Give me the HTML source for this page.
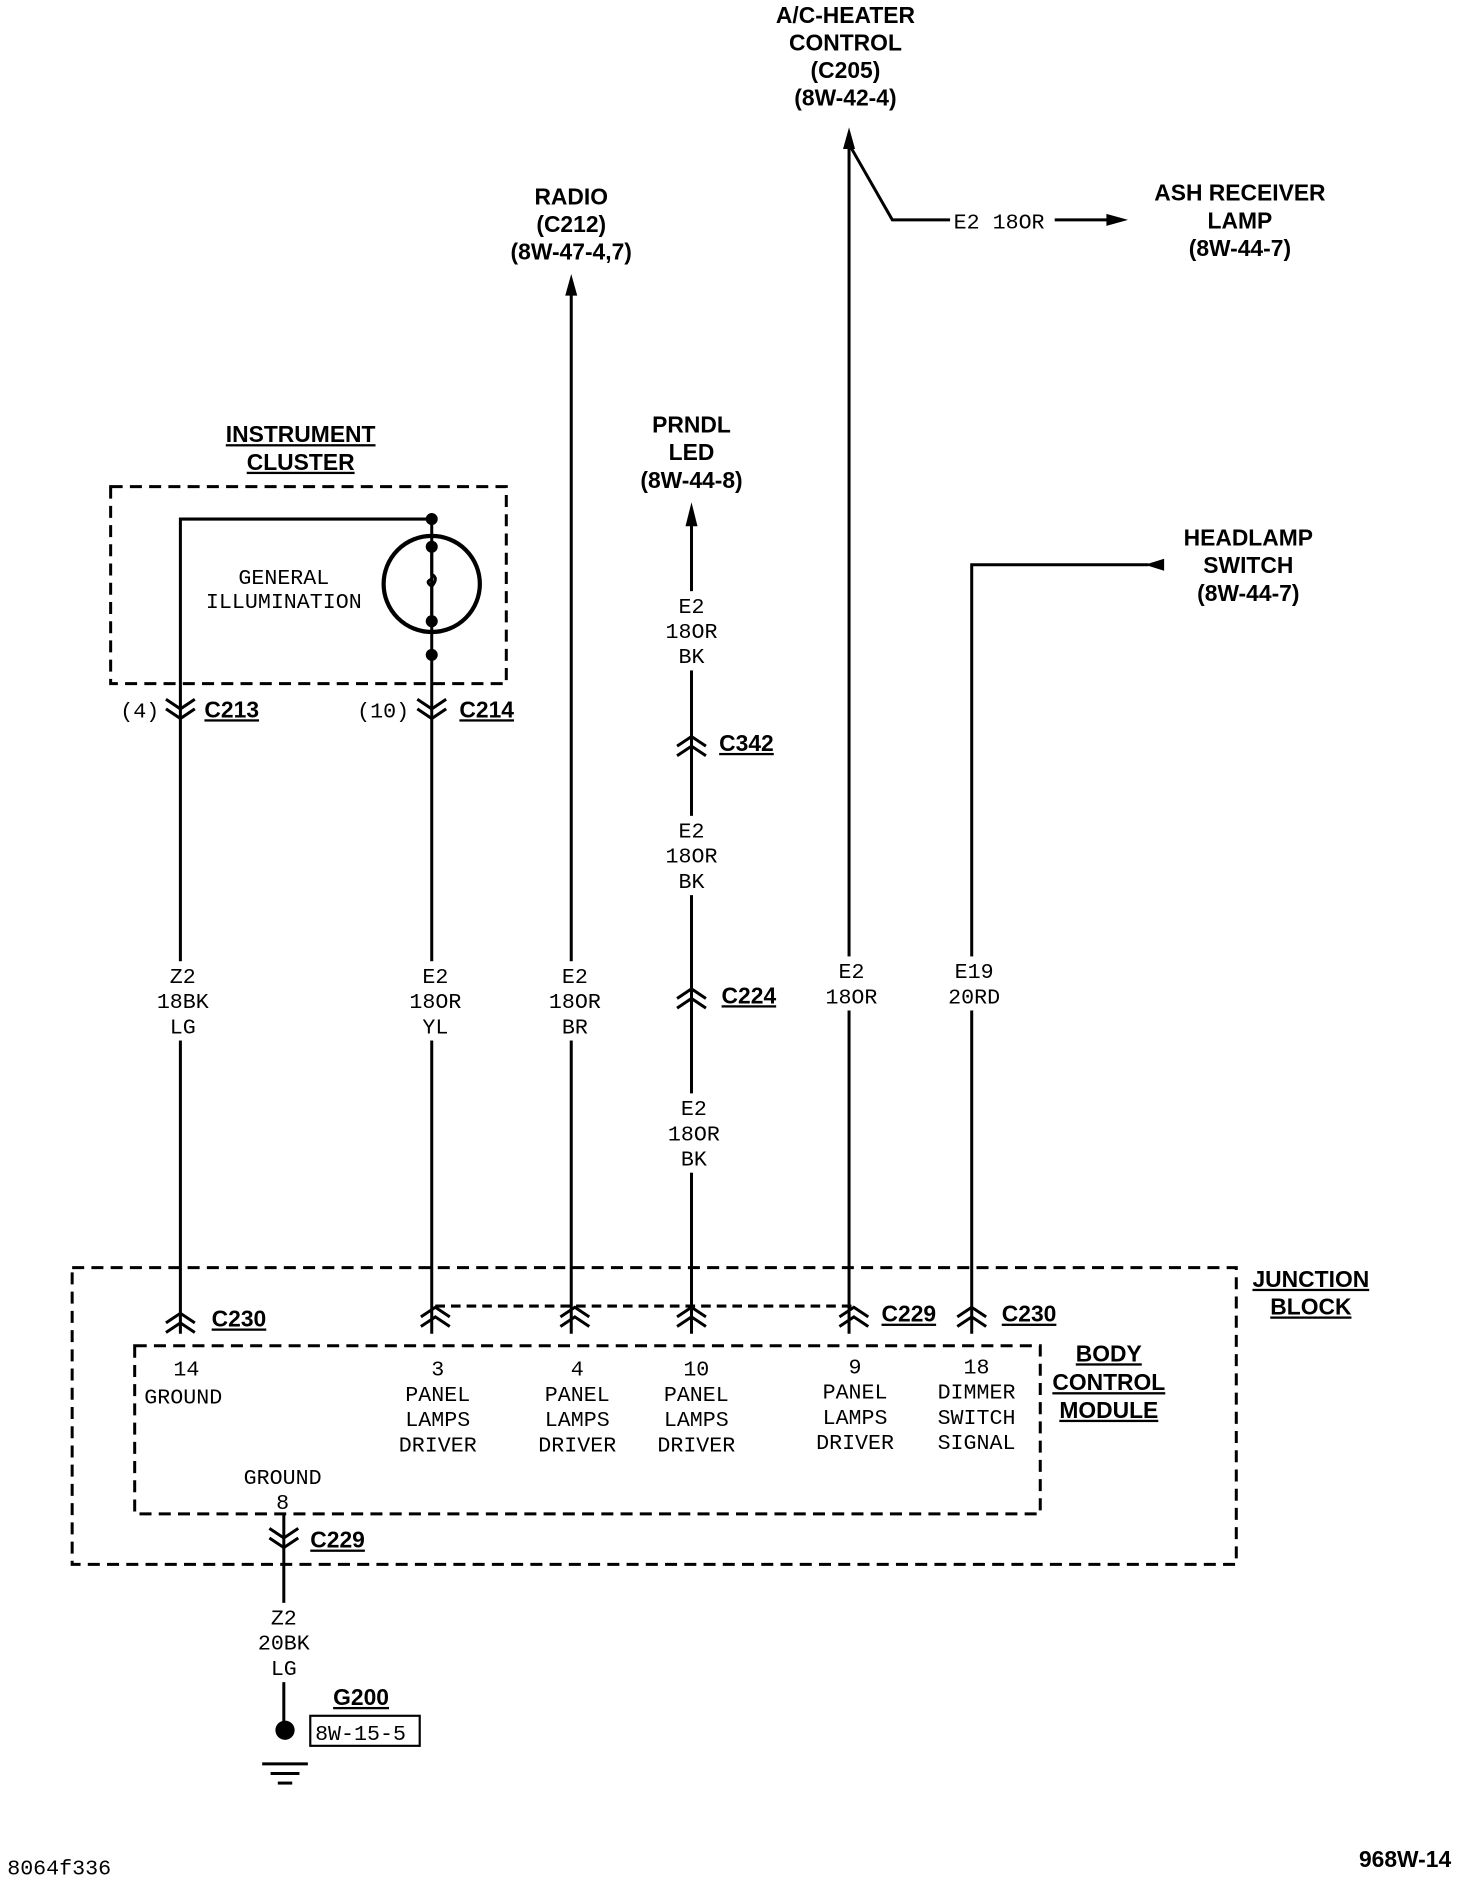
<!DOCTYPE html>
<html><head><style>
html,body{margin:0;padding:0;background:#fff}
svg{display:block}
text{font-family:"Liberation Mono",monospace;font-size:18px;fill:#000}
.b{font-family:"Liberation Sans",sans-serif;font-weight:bold;font-size:19px}
</style></head><body>
<svg width="1472" height="1884" viewBox="0 0 1224 1568" preserveAspectRatio="none" xmlns="http://www.w3.org/2000/svg">
<g stroke="#000" stroke-width="2.5" fill="none">
<rect x="92" y="405" width="329" height="164" stroke-dasharray="10,6"/>
<rect x="60" y="1055" width="968" height="247" stroke-dasharray="10,6"/>
<rect x="112" y="1120" width="753" height="140" stroke-dasharray="10,6"/>
<line x1="362" y1="1087" x2="710" y2="1087" stroke-dasharray="8,5"/>
<path d="M150 1110 V432 H358"/>
<line x1="359" y1="432" x2="359" y2="1110"/>
<circle cx="359" cy="486" r="40" stroke-width="3.5"/>
<path d="M359 458 V478 q6 3 0 10 q-6 -4 0 -6 v30"/>
<line x1="475" y1="240" x2="475" y2="1110"/>
<line x1="575" y1="425" x2="575" y2="1110"/>
<path d="M706 118 V1110"/>
<path d="M706 120 L742 183 H790"/>
<line x1="877" y1="183" x2="925" y2="183"/>
<path d="M808 1110 V470 H955"/>
<line x1="236" y1="1260" x2="236" y2="1440"/>
<line x1="218" y1="1468" x2="256" y2="1468"/>
<line x1="225" y1="1476" x2="249" y2="1476"/>
<line x1="231" y1="1484" x2="243" y2="1484"/>
<rect x="258" y="1428" width="91" height="25" stroke-width="1.8"/>
<path d="M138 582 L150 590 L162 582 M138 590 L150 598 L162 590"/>
<path d="M347 582 L359 590 L371 582 M347 590 L359 598 L371 590"/>
<path d="M224 1272 L236 1280 L248 1272 M224 1280 L236 1288 L248 1280"/>
<path d="M138 1101 L150 1093 L162 1101 M138 1109 L150 1101 L162 1109"/>
<path d="M350 1096 L362 1088 L374 1096 M350 1104 L362 1096 L374 1104"/>
<path d="M466 1096 L478 1088 L490 1096 M466 1104 L478 1096 L490 1104"/>
<path d="M563 1096 L575 1088 L587 1096 M563 1104 L575 1096 L587 1104"/>
<path d="M698 1096 L710 1088 L722 1096 M698 1104 L710 1096 L722 1104"/>
<path d="M796 1096 L808 1088 L820 1096 M796 1104 L808 1096 L820 1104"/>
<path d="M563 621 L575 613 L587 621 M563 629 L575 621 L587 629"/>
<path d="M563 831 L575 823 L587 831 M563 839 L575 831 L587 839"/>
</g>
<g fill="#000">
<circle cx="359" cy="432" r="5"/><circle cx="359" cy="455" r="5"/>
<circle cx="359" cy="517" r="5"/><circle cx="359" cy="545" r="5"/>
<circle cx="237" cy="1440" r="8"/>
<polygon points="475,228 470,246 480,246"/>
<polygon points="575,418 570,438 580,438"/>
<polygon points="706,106 701,124 711,124"/>
<polygon points="938,183 920,178 920,188"/>
<polygon points="952,470 968,465 968,475"/>
</g>
<!-- white masks behind wire labels -->
<g fill="#fff">
<rect x="128" y="800" width="48" height="66"/>
<rect x="337" y="800" width="50" height="66"/>
<rect x="453" y="800" width="50" height="66"/>
<rect x="550" y="492" width="50" height="66"/>
<rect x="550" y="679" width="50" height="66"/>
<rect x="552" y="910" width="50" height="66"/>
<rect x="683" y="796" width="50" height="45"/>
<rect x="785" y="796" width="50" height="45"/>
<rect x="212" y="1334" width="48" height="66"/>
</g>
<g text-anchor="middle">
<text class="b" x="703" y="19">A/C-HEATER</text>
<text class="b" x="703" y="42">CONTROL</text>
<text class="b" x="703" y="65">(C205)</text>
<text class="b" x="703" y="88">(8W-42-4)</text>
<text class="b" x="475" y="170">RADIO</text>
<text class="b" x="475" y="193">(C212)</text>
<text class="b" x="475" y="216">(8W-47-4,7)</text>
<text class="b" x="1031" y="167">ASH RECEIVER</text>
<text class="b" x="1031" y="190">LAMP</text>
<text class="b" x="1031" y="213">(8W-44-7)</text>
<text class="b" x="575" y="360">PRNDL</text>
<text class="b" x="575" y="383">LED</text>
<text class="b" x="575" y="406">(8W-44-8)</text>
<text class="b" x="1038" y="454">HEADLAMP</text>
<text class="b" x="1038" y="477">SWITCH</text>
<text class="b" x="1038" y="500">(8W-44-7)</text>
<text class="b" x="250" y="368" text-decoration="underline">INSTRUMENT</text>
<text class="b" x="250" y="391" text-decoration="underline">CLUSTER</text>
<text class="b" x="1090" y="1071" text-decoration="underline">JUNCTION</text>
<text class="b" x="1090" y="1094" text-decoration="underline">BLOCK</text>
<text class="b" x="922" y="1133" text-decoration="underline">BODY</text>
<text class="b" x="922" y="1157" text-decoration="underline">CONTROL</text>
<text class="b" x="922" y="1180" text-decoration="underline">MODULE</text>
</g>
<g>
<text class="b" x="170" y="597" text-decoration="underline">C213</text>
<text class="b" x="382" y="597" text-decoration="underline">C214</text>
<text class="b" x="598" y="625" text-decoration="underline">C342</text>
<text class="b" x="600" y="835" text-decoration="underline">C224</text>
<text class="b" x="176" y="1104" text-decoration="underline">C230</text>
<text class="b" x="733" y="1100" text-decoration="underline">C229</text>
<text class="b" x="833" y="1100" text-decoration="underline">C230</text>
<text class="b" x="258" y="1288" text-decoration="underline">C229</text>
<text class="b" x="277" y="1419" text-decoration="underline">G200</text>
</g>
<text x="100" y="597">(4)</text>
<text x="297" y="597">(10)</text>
<text x="236" y="486" text-anchor="middle">GENERAL</text>
<text x="236" y="506" text-anchor="middle">ILLUMINATION</text>
<text x="793" y="190">E2 18OR</text>
<g text-anchor="middle">
<text x="152" y="818">Z2</text><text x="152" y="839">18BK</text><text x="152" y="860">LG</text>
<text x="362" y="818">E2</text><text x="362" y="839">18OR</text><text x="362" y="860">YL</text>
<text x="478" y="818">E2</text><text x="478" y="839">18OR</text><text x="478" y="860">BR</text>
<text x="575" y="510">E2</text><text x="575" y="531">18OR</text><text x="575" y="552">BK</text>
<text x="575" y="697">E2</text><text x="575" y="718">18OR</text><text x="575" y="739">BK</text>
<text x="577" y="928">E2</text><text x="577" y="949">18OR</text><text x="577" y="970">BK</text>
<text x="708" y="814">E2</text><text x="708" y="835">18OR</text>
<text x="810" y="814">E19</text><text x="810" y="835">20RD</text>
<text x="236" y="1352">Z2</text><text x="236" y="1373">20BK</text><text x="236" y="1394">LG</text>
<text x="155" y="1145">14</text>
<text x="364" y="1145">3</text><text x="364" y="1166">PANEL</text><text x="364" y="1187">LAMPS</text><text x="364" y="1208">DRIVER</text>
<text x="480" y="1145">4</text><text x="480" y="1166">PANEL</text><text x="480" y="1187">LAMPS</text><text x="480" y="1208">DRIVER</text>
<text x="579" y="1145">10</text><text x="579" y="1166">PANEL</text><text x="579" y="1187">LAMPS</text><text x="579" y="1208">DRIVER</text>
<text x="711" y="1143">9</text><text x="711" y="1164">PANEL</text><text x="711" y="1185">LAMPS</text><text x="711" y="1206">DRIVER</text>
<text x="812" y="1143">18</text><text x="812" y="1164">DIMMER</text><text x="812" y="1185">SWITCH</text><text x="812" y="1206">SIGNAL</text>
<text x="235" y="1235">GROUND</text><text x="235" y="1256">8</text>
</g>
<text x="120" y="1168">GROUND</text>
<text x="262" y="1448">8W-15-5</text>
<text x="6" y="1560">8064f336</text>
<text class="b" x="1130" y="1554">968W-14</text>
</svg>
</body></html>
